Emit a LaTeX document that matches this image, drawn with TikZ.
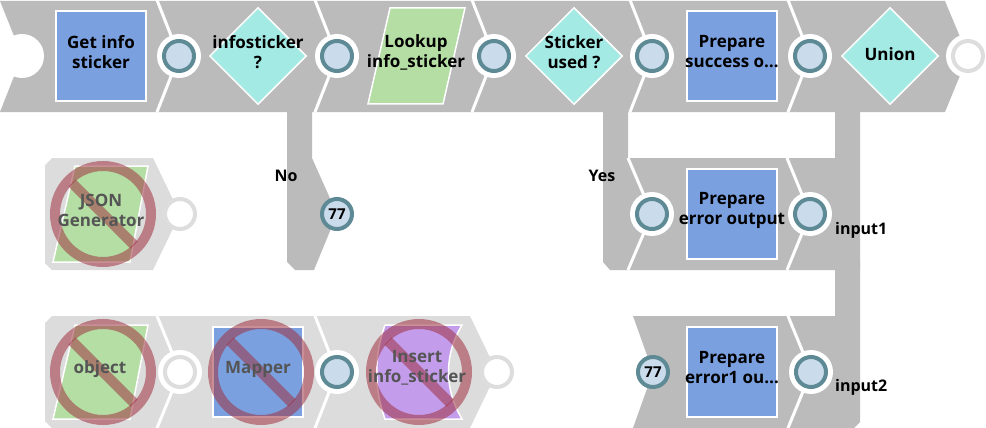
\documentclass[tikz,border=0pt]{standalone}
\usepackage{fontspec}
\setmainfont{Open Sans}
\usetikzlibrary{shapes.geometric}
\definecolor{bandgray}{HTML}{BBBBBB}
\definecolor{disgray}{HTML}{DCDCDC}
\definecolor{boxblue}{HTML}{7AA0E0}
\definecolor{snapteal}{HTML}{A3E9E4}
\definecolor{snapgreen}{HTML}{B4DEA4}
\definecolor{snappurple}{HTML}{C39CEC}
\definecolor{portfill}{HTML}{CADCEC}
\definecolor{portring}{HTML}{5E8A96}
\definecolor{ringlight}{HTML}{DDDDDD}
\definecolor{nored}{HTML}{A03241}
\definecolor{distext}{HTML}{555555}
\tikzset{
  band/.style={fill=bandgray},
  disband/.style={fill=disgray},
  sepline/.style={draw=white, line width=3pt},
  halo/.style={circle, fill=white, minimum size=44pt, inner sep=0pt},
  port/.style={circle, fill=portfill, draw=portring, line width=4pt, minimum size=30pt, inner sep=0pt, font=\bfseries\fontsize{15}{15}\selectfont},
  freeport/.style={port, fill=white, draw=ringlight},
  snapbox/.style={rectangle, fill=boxblue, draw=white, line width=1.5pt, minimum width=90pt, minimum height=90pt, inner sep=0pt},
  snapdiamond/.style={diamond, fill=snapteal, draw=white, line width=1.5pt, minimum width=97pt, minimum height=97pt, inner sep=0pt},
  greenicon/.style={fill=snapgreen, draw=white, line width=1.5pt},
  lbl/.style={font=\bfseries\fontsize{17}{20}\selectfont, align=center, text=black, inner sep=0pt},
  edgelbl/.style={font=\bfseries\fontsize{16}{20}\selectfont, text=black, inner sep=0pt},
  dislbl/.style={lbl, text=distext},
  nosign/.style={draw=nored, draw opacity=0.55, line width=10pt},
}
\begin{document}
\begin{tikzpicture}[x=1pt, y=-1pt]
\useasboundingbox (0,0) rectangle (986,428);
% ---------- active bands ----------
\fill[band] (0,1) -- (945,1) -- (968,56) -- (945,112) -- (0,112) -- (22,56) -- cycle;
\fill[band] (287,100) -- (312,100) -- (312,158) -- (337,214) -- (314,270) -- (295,270) -- (287,262) -- cycle;
\fill[band] (603,100) -- (628,100) -- (628,158) -- (835,158) -- (835,100) -- (860,100) -- (860,270) -- (610,270) -- (603,262) -- cycle;
\fill[band] (835,260) -- (860,260) -- (860,422) -- (854,428) -- (633,428) -- (653,372) -- (633,316) -- (835,316) -- cycle;
% ---------- disabled bands ----------
\fill[disband] (45,165) -- (52,158) -- (153,158) -- (180,214) -- (153,270) -- (52,270) -- (45,263) -- cycle;
\fill[disband] (45,323) -- (52,316) -- (470,316) -- (497,372) -- (470,428) -- (52,428) -- (45,421) -- cycle;
% ---------- separators ----------
\foreach \px in {179,337,494,652,810} {
  \draw[sepline] (\px-22,0) -- (\px,56) -- (\px-22,112);
}
\draw[sepline] (628,158) -- (652,214) -- (628,270);
\draw[sepline] (787,158) -- (810,214) -- (787,270);
\draw[sepline] (788,316) -- (811,372) -- (788,428);
\draw[sepline] (157,316) -- (180,372) -- (157,428);
\draw[sepline] (315,316) -- (337,372) -- (315,428);
% ---------- halos ----------
\foreach \hx/\hy [count=\i] in {22/56,179/56,337/56,494/56,652/56,810/56,968/56,652/214,810/214,811/372,180/372,337/372} {
  \node[halo] (h\i) at (\hx,\hy) {};
}
% ---------- icons top row ----------
\node[snapbox] (getinfo) at (101,56) {};
\node[snapdiamond] (infost) at (258,56) {};
\path[greenicon] (368,104) -- (390,8) -- (465,8) -- (443,104) -- cycle;
\node[snapdiamond] (stused) at (574,56) {};
\node[snapbox] (prepsucc) at (732,56) {};
\node[snapdiamond] (union) at (890,56) {};
\node[snapbox] (preperr) at (732,214) {};
\node[snapbox] (preperr1) at (732,372) {};
% ---------- disabled icons ----------
\path[greenicon] (53,262) -- (75,166) -- (148,166) -- (130,262) -- cycle;
\path[greenicon] (53,419) -- (75,325) -- (148,325) -- (130,419) -- cycle;
\node[snapbox] (mapper) at (258,372) {};
\path[fill=snappurple, draw=white, line width=1.5pt] (385,325) -- (462,325) .. controls (444,355) and (444,389) .. (462,419) -- (385,419) .. controls (374,389) and (374,355) .. (385,325) -- cycle;
% ---------- no signs ----------
\foreach \cx/\cy in {103/214,103/372,261/372,419/372} {
  \draw[nosign] (\cx,\cy) circle[radius=48pt];
  \draw[nosign] (\cx-31,\cy-31) -- (\cx+31,\cy+31);
}
% ---------- ports ----------
\node[port] (p1) at (179,56) {};
\node[port] (p2) at (337,56) {};
\node[port] (p3) at (494,56) {};
\node[port] (p4) at (652,56) {};
\node[port] (p5) at (810,56) {};
\node[freeport] (p6) at (968,56) {};
\node[port] (pno) at (337,214) {77};
\node[port] (pyes) at (652,214) {};
\node[port] (perr) at (810,214) {};
\node[port] (pin2) at (653,372) {77};
\node[port] (perr1) at (811,372) {};
\node[freeport] (pjson) at (180,214) {};
\node[freeport] (pobj) at (180,372) {};
\node[port] (pmap) at (337,372) {};
\node[freeport] (pins) at (497,372) {};
% ---------- labels ----------
\node[lbl] (tget) at (101,52) {Get info\\sticker};
\node[lbl] (tinfo) at (258,52) {infosticker\\?};
\node[lbl] (tlook) at (416,52) {Lookup\\info\_sticker};
\node[lbl] (tused) at (574,52) {Sticker\\used ?};
\node[lbl] (tsucc) at (732,52) {Prepare\\success o…};
\node[lbl] (tunion) at (890,54) {Union};
\node[lbl] (terr) at (732,210) {Prepare\\error output};
\node[lbl] (terr1) at (732,368) {Prepare\\error1 ou…};
\node[dislbl] (tjson) at (101,210) {JSON\\Generator};
\node[dislbl] (tobj) at (100,369) {object};
\node[dislbl] (tmap) at (258,369) {Mapper};
\node[dislbl] (tins) at (417,368) {Insert\\info\_sticker};
\node[edgelbl] (tno) at (286,176) {No};
\node[edgelbl] (tyes) at (602,176) {Yes};
\node[edgelbl, anchor=west] (tin1) at (835,230) {input1};
\node[edgelbl, anchor=west] (tin2) at (835,387) {input2};
\end{tikzpicture}
\end{document}
